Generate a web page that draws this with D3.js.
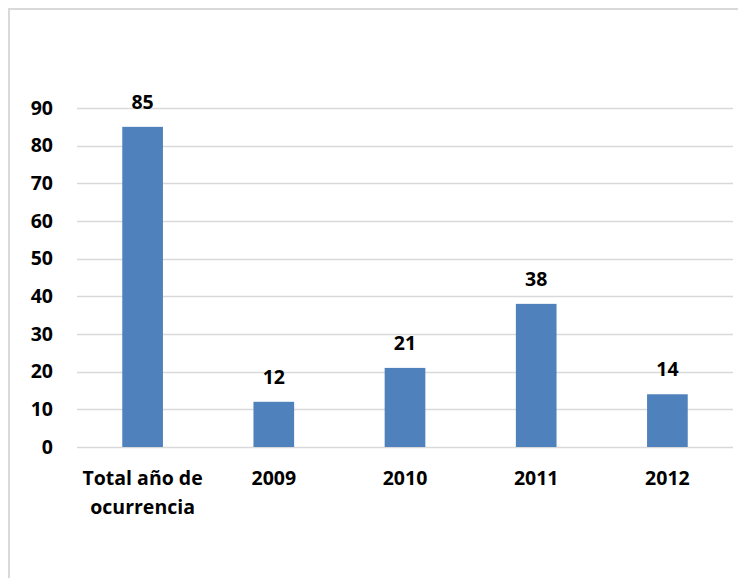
<!DOCTYPE html>
<html>
<head>
<meta charset="utf-8">
<script src="https://cdn.jsdelivr.net/npm/d3@7"></script>
<style>
  body { margin: 0; background: #fff; }
  svg text { font-family: "Open Sans", Lato, sans-serif; font-weight: bold; fill: #000; }
</style>
</head>
<body>
<div id="chart"></div>
<script>
const categories = ['Total año de ocurrencia', '2009', '2010', '2011', '2012'];
const values = [85, 12, 21, 38, 14];
const yTicks = [0, 10, 20, 30, 40, 50, 60, 70, 80, 90];

const width = 738;
const height = 578;
const margin = { top: 108, right: 5, bottom: 131, left: 77 };
const fontSize = 19.5;

const svg = d3.select('#chart')
  .append('svg')
  .attr('width', width)
  .attr('height', height);

// outer frame
svg.append('rect')
  .attr('x', 9)
  .attr('y', 9)
  .attr('width', width)
  .attr('height', height)
  .attr('fill', 'none')
  .attr('stroke', '#d9d9d9')
  .attr('stroke-width', 2);

const x = d3.scaleBand()
  .domain(categories)
  .range([margin.left, width - margin.right])
  .paddingInner(0.69)
  .paddingOuter(0.345);

const y = d3.scaleLinear()
  .domain([0, 90])
  .range([height - margin.bottom, margin.top]);

// gridlines
svg.append('g')
  .selectAll('line')
  .data(yTicks)
  .enter()
  .append('line')
  .attr('x1', margin.left)
  .attr('x2', width - margin.right)
  .attr('y1', d => Math.round(y(d)) + 0.5)
  .attr('y2', d => Math.round(y(d)) + 0.5)
  .attr('stroke', '#d9d9d9')
  .attr('stroke-width', 1.5);

// y axis labels
const yAxis = d3.axisLeft(y)
  .tickValues(yTicks)
  .tickSize(0)
  .tickPadding(24);

svg.append('g')
  .attr('transform', `translate(${margin.left}, 0)`)
  .call(yAxis)
  .call(g => g.select('.domain').remove())
  .selectAll('text')
  .attr('font-size', fontSize)
  .attr('font-family', '"Open Sans", sans-serif');

// bars
svg.append('g')
  .selectAll('rect')
  .data(values)
  .enter()
  .append('rect')
  .attr('x', (d, i) => x(categories[i]))
  .attr('y', d => y(d))
  .attr('width', x.bandwidth())
  .attr('height', d => y(0) - y(d))
  .attr('fill', '#4f81bd');

// value labels
svg.append('g')
  .selectAll('text')
  .data(values)
  .enter()
  .append('text')
  .attr('x', (d, i) => x(categories[i]) + x.bandwidth() / 2)
  .attr('y', d => y(d) - 18)
  .attr('text-anchor', 'middle')
  .attr('font-size', fontSize)
  .text(d => d);

// category labels (wrapped)
const catLines = [['Total año de', 'ocurrencia'], ['2009'], ['2010'], ['2011'], ['2012']];
const catGroup = svg.append('g');
catLines.forEach((lines, i) => {
  const t = catGroup.append('text')
    .attr('x', x(categories[i]) + x.bandwidth() / 2)
    .attr('y', y(0) + 38)
    .attr('text-anchor', 'middle')
    .attr('font-size', fontSize);
  lines.forEach((line, j) => {
    t.append('tspan')
      .attr('x', x(categories[i]) + x.bandwidth() / 2)
      .attr('dy', j === 0 ? 0 : 29)
      .text(line);
  });
});
</script>
</body>
</html>
